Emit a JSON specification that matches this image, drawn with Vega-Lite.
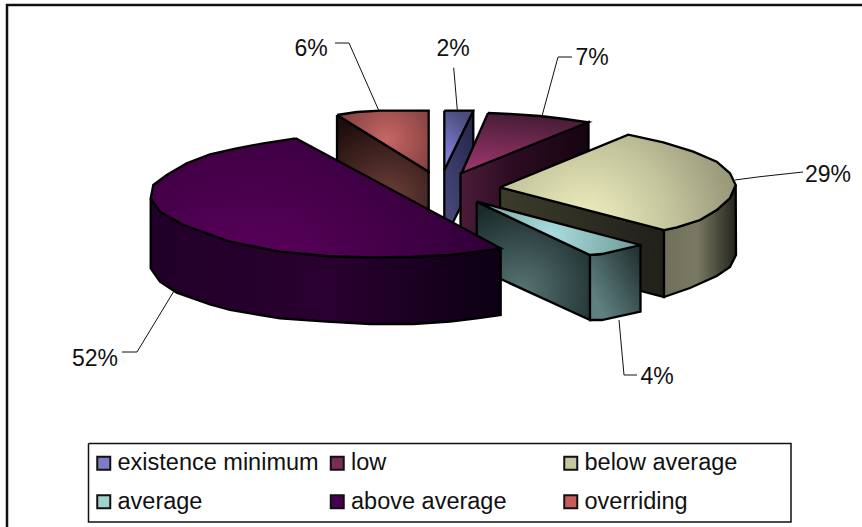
{
  "$schema": "https://vega.github.io/schema/vega-lite/v6.json",
  "width": 862,
  "height": 527,
  "padding": 0,
  "autosize": "none",
  "background": "white",
  "view": {"stroke": null},
  "config": {"font": "Liberation Sans"},
  "datasets": {
    "slices": [
      {"category": "existence minimum", "share": 0.02, "x": 453, "y": 47},
      {"category": "low", "share": 0.07, "x": 592, "y": 56},
      {"category": "below average", "share": 0.29, "x": 828, "y": 173},
      {"category": "average", "share": 0.04, "x": 657, "y": 375},
      {"category": "above average", "share": 0.52, "x": 95, "y": 357},
      {"category": "overriding", "share": 0.06, "x": 311, "y": 47}
    ],
    "frame": [
      {"i": 0, "x": 7, "y": 527},
      {"i": 1, "x": 7, "y": 5},
      {"i": 2, "x": 862, "y": 5}
    ],
    "legendBox": [
      {"i": 0, "x": 88.5, "y": 443.5},
      {"i": 1, "x": 791, "y": 443.5},
      {"i": 2, "x": 791, "y": 522},
      {"i": 3, "x": 88.5, "y": 522},
      {"i": 4, "x": 88.5, "y": 443.5}
    ],
    "leaders": [
      {"category": "overriding", "i": 0, "x": 335, "y": 43},
      {"category": "overriding", "i": 1, "x": 349, "y": 43},
      {"category": "overriding", "i": 2, "x": 379, "y": 111},
      {"category": "existence minimum", "i": 0, "x": 453.7, "y": 67.7},
      {"category": "existence minimum", "i": 1, "x": 457.3, "y": 110},
      {"category": "low", "i": 0, "x": 572, "y": 57},
      {"category": "low", "i": 1, "x": 558, "y": 57},
      {"category": "low", "i": 2, "x": 542, "y": 116},
      {"category": "below average", "i": 0, "x": 735, "y": 180},
      {"category": "below average", "i": 1, "x": 760, "y": 176.7},
      {"category": "below average", "i": 2, "x": 803, "y": 172},
      {"category": "average", "i": 0, "x": 619, "y": 320},
      {"category": "average", "i": 1, "x": 624, "y": 375},
      {"category": "average", "i": 2, "x": 637, "y": 375},
      {"category": "above average", "i": 0, "x": 174, "y": 291},
      {"category": "above average", "i": 1, "x": 137, "y": 352},
      {"category": "above average", "i": 2, "x": 122, "y": 352}
    ],
    "faces": [
      {"face": "overriding-side", "i": 0, "x": 337, "y": 115},
      {"face": "overriding-side", "i": 1, "x": 428.7, "y": 171.7},
      {"face": "overriding-side", "i": 2, "x": 428.7, "y": 238},
      {"face": "overriding-side", "i": 3, "x": 337, "y": 182},
      {"face": "overriding-side", "i": 4, "x": 337, "y": 115},

      {"face": "overriding-top", "i": 0, "x": 337, "y": 115},
      {"face": "overriding-top", "i": 1, "x": 357, "y": 112},
      {"face": "overriding-top", "i": 2, "x": 380, "y": 110.7},
      {"face": "overriding-top", "i": 3, "x": 428.7, "y": 110.7},
      {"face": "overriding-top", "i": 4, "x": 428.7, "y": 171.7},
      {"face": "overriding-top", "i": 5, "x": 337, "y": 115},

      {"face": "minimum-side", "i": 0, "x": 473.3, "y": 110.7},
      {"face": "minimum-side", "i": 1, "x": 473.3, "y": 181},
      {"face": "minimum-side", "i": 2, "x": 444.3, "y": 240},
      {"face": "minimum-side", "i": 3, "x": 444.3, "y": 170},
      {"face": "minimum-side", "i": 4, "x": 473.3, "y": 110.7},

      {"face": "minimum-top", "i": 0, "x": 444.3, "y": 110.7},
      {"face": "minimum-top", "i": 1, "x": 473.3, "y": 110.7},
      {"face": "minimum-top", "i": 2, "x": 444.3, "y": 170},
      {"face": "minimum-top", "i": 3, "x": 444.3, "y": 110.7},

      {"face": "low-side", "i": 0, "x": 460.5, "y": 173},
      {"face": "low-side", "i": 1, "x": 588.5, "y": 122},
      {"face": "low-side", "i": 2, "x": 588.5, "y": 192},
      {"face": "low-side", "i": 3, "x": 460.5, "y": 243},
      {"face": "low-side", "i": 4, "x": 460.5, "y": 173},

      {"face": "low-top", "i": 0, "x": 488, "y": 113},
      {"face": "low-top", "i": 1, "x": 510, "y": 114},
      {"face": "low-top", "i": 2, "x": 540, "y": 116},
      {"face": "low-top", "i": 3, "x": 565, "y": 119},
      {"face": "low-top", "i": 4, "x": 588.3, "y": 122.3},
      {"face": "low-top", "i": 5, "x": 461.7, "y": 173},
      {"face": "low-top", "i": 6, "x": 488, "y": 113},

      {"face": "below-cut", "i": 0, "x": 500, "y": 187.3},
      {"face": "below-cut", "i": 1, "x": 664, "y": 230},
      {"face": "below-cut", "i": 2, "x": 664, "y": 297},
      {"face": "below-cut", "i": 3, "x": 500, "y": 254},
      {"face": "below-cut", "i": 4, "x": 500, "y": 187.3},

      {"face": "below-rim", "i": 0, "x": 664, "y": 230},
      {"face": "below-rim", "i": 1, "x": 676.7, "y": 227.3},
      {"face": "below-rim", "i": 2, "x": 700, "y": 220},
      {"face": "below-rim", "i": 3, "x": 716.7, "y": 210},
      {"face": "below-rim", "i": 4, "x": 730, "y": 198},
      {"face": "below-rim", "i": 5, "x": 735.7, "y": 185},
      {"face": "below-rim", "i": 6, "x": 736, "y": 255},
      {"face": "below-rim", "i": 7, "x": 730, "y": 267},
      {"face": "below-rim", "i": 8, "x": 716.7, "y": 276},
      {"face": "below-rim", "i": 9, "x": 690, "y": 288},
      {"face": "below-rim", "i": 10, "x": 664, "y": 297},
      {"face": "below-rim", "i": 11, "x": 664, "y": 230},

      {"face": "below-top", "i": 0, "x": 500, "y": 187.3},
      {"face": "below-top", "i": 1, "x": 628.3, "y": 134.7},
      {"face": "below-top", "i": 2, "x": 663.3, "y": 142.3},
      {"face": "below-top", "i": 3, "x": 693.3, "y": 151.7},
      {"face": "below-top", "i": 4, "x": 716.7, "y": 161.7},
      {"face": "below-top", "i": 5, "x": 730, "y": 173.3},
      {"face": "below-top", "i": 6, "x": 735.7, "y": 185},
      {"face": "below-top", "i": 7, "x": 730, "y": 198},
      {"face": "below-top", "i": 8, "x": 716.7, "y": 210},
      {"face": "below-top", "i": 9, "x": 700, "y": 220},
      {"face": "below-top", "i": 10, "x": 676.7, "y": 227.3},
      {"face": "below-top", "i": 11, "x": 664, "y": 230},
      {"face": "below-top", "i": 12, "x": 500, "y": 187.3},

      {"face": "average-cut", "i": 0, "x": 476.7, "y": 201.7},
      {"face": "average-cut", "i": 1, "x": 590, "y": 255},
      {"face": "average-cut", "i": 2, "x": 590, "y": 320},
      {"face": "average-cut", "i": 3, "x": 476.7, "y": 268},
      {"face": "average-cut", "i": 4, "x": 476.7, "y": 201.7},

      {"face": "average-rim", "i": 0, "x": 590, "y": 255},
      {"face": "average-rim", "i": 1, "x": 601.7, "y": 254},
      {"face": "average-rim", "i": 2, "x": 640.5, "y": 245},
      {"face": "average-rim", "i": 3, "x": 640.5, "y": 311.5},
      {"face": "average-rim", "i": 4, "x": 601.7, "y": 320},
      {"face": "average-rim", "i": 5, "x": 590, "y": 320},
      {"face": "average-rim", "i": 6, "x": 590, "y": 255},

      {"face": "average-top", "i": 0, "x": 476.7, "y": 201.7},
      {"face": "average-top", "i": 1, "x": 640.5, "y": 245},
      {"face": "average-top", "i": 2, "x": 601.7, "y": 254},
      {"face": "average-top", "i": 3, "x": 590, "y": 255},
      {"face": "average-top", "i": 4, "x": 476.7, "y": 201.7},

      {"face": "above-rim", "i": 0, "x": 150.7, "y": 198.3},
      {"face": "above-rim", "i": 1, "x": 160, "y": 211.7},
      {"face": "above-rim", "i": 2, "x": 183.3, "y": 225},
      {"face": "above-rim", "i": 3, "x": 230, "y": 241.7},
      {"face": "above-rim", "i": 4, "x": 280, "y": 251.7},
      {"face": "above-rim", "i": 5, "x": 326.7, "y": 256},
      {"face": "above-rim", "i": 6, "x": 370, "y": 257.3},
      {"face": "above-rim", "i": 7, "x": 413.3, "y": 256.7},
      {"face": "above-rim", "i": 8, "x": 450, "y": 255},
      {"face": "above-rim", "i": 9, "x": 476.7, "y": 251.7},
      {"face": "above-rim", "i": 10, "x": 500.7, "y": 248.3},
      {"face": "above-rim", "i": 11, "x": 500.7, "y": 315},
      {"face": "above-rim", "i": 12, "x": 476.7, "y": 318.3},
      {"face": "above-rim", "i": 13, "x": 450, "y": 321.7},
      {"face": "above-rim", "i": 14, "x": 413.3, "y": 324},
      {"face": "above-rim", "i": 15, "x": 370, "y": 324},
      {"face": "above-rim", "i": 16, "x": 326.7, "y": 321.7},
      {"face": "above-rim", "i": 17, "x": 280, "y": 318.3},
      {"face": "above-rim", "i": 18, "x": 230, "y": 310},
      {"face": "above-rim", "i": 19, "x": 210, "y": 304.3},
      {"face": "above-rim", "i": 20, "x": 176.7, "y": 292.7},
      {"face": "above-rim", "i": 21, "x": 160, "y": 281.7},
      {"face": "above-rim", "i": 22, "x": 150.7, "y": 268.3},
      {"face": "above-rim", "i": 23, "x": 150.7, "y": 198.3},

      {"face": "above-top", "i": 0, "x": 295.7, "y": 138.3},
      {"face": "above-top", "i": 1, "x": 263.3, "y": 143.3},
      {"face": "above-top", "i": 2, "x": 236.7, "y": 148.3},
      {"face": "above-top", "i": 3, "x": 210, "y": 154.3},
      {"face": "above-top", "i": 4, "x": 186.7, "y": 163.3},
      {"face": "above-top", "i": 5, "x": 166.7, "y": 175},
      {"face": "above-top", "i": 6, "x": 153.3, "y": 185},
      {"face": "above-top", "i": 7, "x": 150.7, "y": 198.3},
      {"face": "above-top", "i": 8, "x": 160, "y": 211.7},
      {"face": "above-top", "i": 9, "x": 183.3, "y": 225},
      {"face": "above-top", "i": 10, "x": 230, "y": 241.7},
      {"face": "above-top", "i": 11, "x": 280, "y": 251.7},
      {"face": "above-top", "i": 12, "x": 326.7, "y": 256},
      {"face": "above-top", "i": 13, "x": 370, "y": 257.3},
      {"face": "above-top", "i": 14, "x": 413.3, "y": 256.7},
      {"face": "above-top", "i": 15, "x": 450, "y": 255},
      {"face": "above-top", "i": 16, "x": 476.7, "y": 251.7},
      {"face": "above-top", "i": 17, "x": 500.7, "y": 248.3},
      {"face": "above-top", "i": 18, "x": 295.7, "y": 138.3}
    ]
  },
  "encoding": {
    "x": {"field": "x", "type": "quantitative", "scale": {"domain": [0, 862], "nice": false, "zero": false}, "axis": null},
    "y": {"field": "y", "type": "quantitative", "scale": {"domain": [527, 0], "nice": false, "zero": false}, "axis": null}
  },
  "layer": [
    {
      "data": {"name": "frame"},
      "mark": {"type": "line", "stroke": "#111111", "strokeWidth": 2.5},
      "encoding": {"order": {"field": "i"}}
    },
    {
      "data": {"name": "legendBox"},
      "mark": {"type": "line", "stroke": "#111111", "strokeWidth": 1.5},
      "encoding": {"order": {"field": "i"}}
    },
    {
      "data": {"name": "leaders"},
      "mark": {"type": "line", "stroke": "#111111", "strokeWidth": 1},
      "encoding": {"detail": {"field": "category"}, "order": {"field": "i"}}
    },
    {
      "data": {"name": "slices"},
      "mark": {"type": "point", "filled": true, "shape": "square", "size": 0, "opacity": 1},
      "encoding": {
        "fill": {
          "field": "category",
          "type": "nominal",
          "scale": {
            "domain": ["existence minimum", "low", "below average", "average", "above average", "overriding"],
            "range": ["#7c7cc8", "#7a2c58", "#c6c6a0", "#a2d2ce", "#4a0050", "#c85c5c"]
          },
          "legend": {
            "title": null,
            "orient": "none",
            "direction": "horizontal",
            "legendX": 92,
            "legendY": 451,
            "columns": 3,
            "gridAlign": "all",
            "columnPadding": 6.5,
            "rowPadding": 14,
            "padding": 0,
            "symbolType": "square",
            "symbolSize": 169,
            "symbolStrokeColor": "#111111",
            "symbolStrokeWidth": 2,
            "labelFont": "Liberation Sans",
            "labelFontSize": 23.5,
            "labelColor": "#111111",
            "labelOffset": 2,
            "labelLimit": 400
          }
        }
      }
    },
    {
      "data": {"name": "slices"},
      "mark": {"type": "text", "font": "Liberation Sans", "fontSize": 23, "fill": "#111111", "baseline": "middle", "align": "center", "dy": 2},
      "encoding": {
        "text": {"field": "share", "type": "quantitative", "format": ".0%"}
      }
    },
    {
      "data": {"name": "faces"},
      "transform": [{"filter": "datum.face === 'overriding-side'"}],
      "mark": {"type": "line", "stroke": "black", "strokeWidth": 2.3, "fill": {"gradient": "radial", "x1": 0.54, "y1": 0.7, "x2": 0.54, "y2": 0.7, "r1": 0, "r2": 0.7, "stops": [{"offset": 0, "color": "#70403c"}, {"offset": 1, "color": "#1e0e0c"}]}},
      "encoding": {"order": {"field": "i"}}
    },
    {
      "data": {"name": "faces"},
      "transform": [{"filter": "datum.face === 'overriding-top'"}],
      "mark": {"type": "line", "stroke": "black", "strokeWidth": 2.3, "fill": {"gradient": "radial", "x1": 0.54, "y1": 0.48, "x2": 0.54, "y2": 0.48, "r1": 0, "r2": 0.75, "stops": [{"offset": 0, "color": "#c86666"}, {"offset": 1, "color": "#6a3432"}]}},
      "encoding": {"order": {"field": "i"}}
    },
    {
      "data": {"name": "faces"},
      "transform": [{"filter": "datum.face === 'minimum-side'"}],
      "mark": {"type": "line", "stroke": "black", "strokeWidth": 2.3, "fill": {"gradient": "linear", "x1": 0.8, "y1": 0, "x2": 0.2, "y2": 1, "stops": [{"offset": 0, "color": "#24264a"}, {"offset": 1, "color": "#4c4c80"}]}},
      "encoding": {"order": {"field": "i"}}
    },
    {
      "data": {"name": "faces"},
      "transform": [{"filter": "datum.face === 'minimum-top'"}],
      "mark": {"type": "line", "stroke": "black", "strokeWidth": 2.3, "fill": {"gradient": "linear", "x1": 0, "y1": 1, "x2": 0.4, "y2": 0, "stops": [{"offset": 0, "color": "#8c8cf0"}, {"offset": 1, "color": "#4c4c7c"}]}},
      "encoding": {"order": {"field": "i"}}
    },
    {
      "data": {"name": "faces"},
      "transform": [{"filter": "datum.face === 'low-side'"}],
      "mark": {"type": "line", "stroke": "black", "strokeWidth": 2.3, "fill": {"gradient": "linear", "x1": 0, "y1": 0, "x2": 1, "y2": 0, "stops": [{"offset": 0, "color": "#4c1c3a"}, {"offset": 0.4, "color": "#2c0c22"}, {"offset": 1, "color": "#160410"}]}},
      "encoding": {"order": {"field": "i"}}
    },
    {
      "data": {"name": "faces"},
      "transform": [{"filter": "datum.face === 'low-top'"}],
      "mark": {"type": "line", "stroke": "black", "strokeWidth": 2.3, "fill": {"gradient": "linear", "x1": 0.1, "y1": 1, "x2": 0.3, "y2": 0, "stops": [{"offset": 0, "color": "#a03870"}, {"offset": 1, "color": "#481c36"}]}},
      "encoding": {"order": {"field": "i"}}
    },
    {
      "data": {"name": "faces"},
      "transform": [{"filter": "datum.face === 'below-cut'"}],
      "mark": {"type": "line", "stroke": "black", "strokeWidth": 2.3, "fill": {"gradient": "linear", "x1": 0, "y1": 0, "x2": 1, "y2": 0, "stops": [{"offset": 0, "color": "#3c3c2c"}, {"offset": 1, "color": "#20201a"}]}},
      "encoding": {"order": {"field": "i"}}
    },
    {
      "data": {"name": "faces"},
      "transform": [{"filter": "datum.face === 'below-rim'"}],
      "mark": {"type": "line", "stroke": "black", "strokeWidth": 2.3, "fill": {"gradient": "linear", "x1": 0, "y1": 0, "x2": 1, "y2": 0, "stops": [{"offset": 0, "color": "#6e6e5a"}, {"offset": 0.45, "color": "#7a7a64"}, {"offset": 1, "color": "#24241c"}]}},
      "encoding": {"order": {"field": "i"}}
    },
    {
      "data": {"name": "faces"},
      "transform": [{"filter": "datum.face === 'below-top'"}],
      "mark": {"type": "line", "stroke": "black", "strokeWidth": 2.3, "fill": {"gradient": "radial", "x1": 0.36, "y1": 0.7, "x2": 0.36, "y2": 0.7, "r1": 0, "r2": 0.85, "stops": [{"offset": 0, "color": "#f2f2c2"}, {"offset": 0.4, "color": "#c8c8a0"}, {"offset": 0.75, "color": "#9a9a7c"}, {"offset": 1, "color": "#6e6e58"}]}},
      "encoding": {"order": {"field": "i"}}
    },
    {
      "data": {"name": "faces"},
      "transform": [{"filter": "datum.face === 'average-cut'"}],
      "mark": {"type": "line", "stroke": "black", "strokeWidth": 2.3, "fill": {"gradient": "radial", "x1": 0.4, "y1": 0.75, "x2": 0.4, "y2": 0.75, "r1": 0, "r2": 0.75, "stops": [{"offset": 0, "color": "#587474"}, {"offset": 1, "color": "#1a2a2a"}]}},
      "encoding": {"order": {"field": "i"}}
    },
    {
      "data": {"name": "faces"},
      "transform": [{"filter": "datum.face === 'average-rim'"}],
      "mark": {"type": "line", "stroke": "black", "strokeWidth": 2.3, "fill": {"gradient": "linear", "x1": 0.2, "y1": 0.85, "x2": 1, "y2": 0.2, "stops": [{"offset": 0, "color": "#608080"}, {"offset": 1, "color": "#243434"}]}},
      "encoding": {"order": {"field": "i"}}
    },
    {
      "data": {"name": "faces"},
      "transform": [{"filter": "datum.face === 'average-top'"}],
      "mark": {"type": "line", "stroke": "black", "strokeWidth": 2.3, "fill": {"gradient": "radial", "x1": 0.45, "y1": 0.55, "x2": 0.45, "y2": 0.55, "r1": 0, "r2": 0.75, "stops": [{"offset": 0, "color": "#aadede"}, {"offset": 1, "color": "#587f80"}]}},
      "encoding": {"order": {"field": "i"}}
    },
    {
      "data": {"name": "faces"},
      "transform": [{"filter": "datum.face === 'above-rim'"}],
      "mark": {"type": "line", "stroke": "black", "strokeWidth": 2.3, "fill": {"gradient": "linear", "x1": 0, "y1": 0, "x2": 1, "y2": 0, "stops": [{"offset": 0, "color": "#200028"}, {"offset": 0.5, "color": "#2a0030"}, {"offset": 1, "color": "#0c0014"}]}},
      "encoding": {"order": {"field": "i"}}
    },
    {
      "data": {"name": "faces"},
      "transform": [{"filter": "datum.face === 'above-top'"}],
      "mark": {"type": "line", "stroke": "black", "strokeWidth": 2.3, "fill": {"gradient": "radial", "x1": 0.28, "y1": 0.85, "x2": 0.28, "y2": 0.85, "r1": 0, "r2": 0.85, "stops": [{"offset": 0, "color": "#640064"}, {"offset": 1, "color": "#280030"}]}},
      "encoding": {"order": {"field": "i"}}
    }
  ]
}
